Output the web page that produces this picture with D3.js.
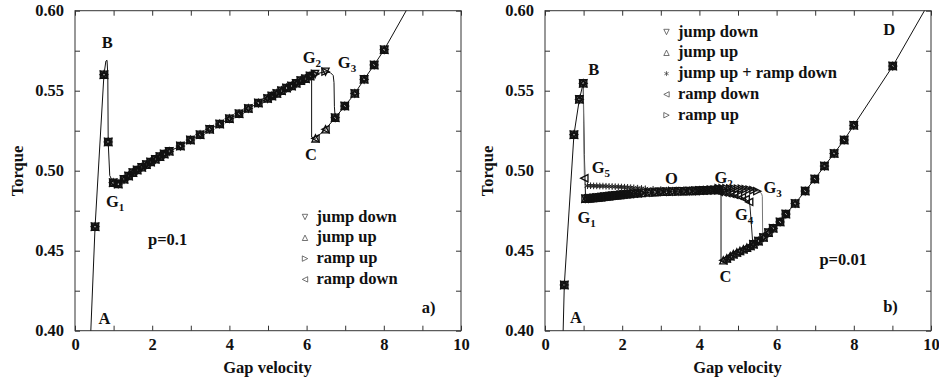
<!DOCTYPE html>
<html>
<head>
<meta charset="utf-8">
<script src="https://cdn.jsdelivr.net/npm/d3@7"></script>
<style>
body { margin: 0; background: #fff; }
text { font-family: "Liberation Serif", "Times New Roman", serif; font-weight: bold; font-size: 16.5px; fill: #111; }
</style>
</head>
<body>
<svg id="chart" width="939" height="381"></svg>
<script>
let svg = d3.select("#chart");

//! DATA
let xTicks = [0, 1, 2, 3, 4, 5, 6, 7, 8, 9, 10];
let yTicks = [0.40, 0.425, 0.45, 0.475, 0.50, 0.525, 0.55, 0.575, 0.60];

// --- panel a) p=0.1 : points where all four runs coincide
let leftAll = [
    [0.52, 0.465], [0.75, 0.560], [0.86, 0.518], [0.99, 0.4925], [1.12, 0.4917], [1.27, 0.4946],
    [1.39, 0.4967], [1.50, 0.4988], [1.61, 0.5004], [1.73, 0.5021], [1.85, 0.5038], [1.96, 0.5054],
    [2.08, 0.5071], [2.20, 0.5088], [2.31, 0.5104], [2.44, 0.5121], [2.73, 0.5154], [2.99, 0.5192],
    [3.24, 0.5225], [3.49, 0.5259], [3.75, 0.5292], [4.00, 0.5325], [4.25, 0.5356], [4.49, 0.5389],
    [4.75, 0.5423], [4.99, 0.5451], [5.10, 0.5467], [5.23, 0.5483], [5.35, 0.5500], [5.48, 0.5517],
    [5.61, 0.5529], [5.73, 0.5546], [5.85, 0.5563], [5.97, 0.5575], [6.09, 0.5592]
];
let leftHigh = [[6.74, 0.5331], [6.99, 0.5404], [7.25, 0.5483], [7.49, 0.5571], [7.75, 0.5661], [8.01, 0.5756]];
let leftUpper = [[6.22, 0.5604], [6.49, 0.5619]];
let leftLower = [[6.23, 0.5202], [6.49, 0.5259]];
let leftRise = [[0.41, 0.40]];
let leftPeak = [[0.80, 0.5685], [0.83, 0.569], [0.85, 0.560], [0.86, 0.518], [0.90, 0.497]];
let leftTurnG3 = [[6.62, 0.5612], [6.69, 0.5595], [6.71, 0.555], [6.72, 0.540]];
let leftTurnC = [[6.09, 0.5592], [6.13, 0.5596], [6.13, 0.521]];
let leftEnd = [[8.58, 0.60]];

// --- panel b) p=0.01
let rightRise = [[0.50, 0.4286], [0.75, 0.5225], [0.89, 0.5446], [0.99, 0.5546]];
let rightD = [
    [5.40, 0.4540], [5.53, 0.4560], [5.66, 0.4583], [5.79, 0.4613], [5.91, 0.4640], [6.09, 0.4680],
    [6.24, 0.4729], [6.48, 0.4795], [6.74, 0.4873], [6.99, 0.4948], [7.24, 0.5029], [7.49, 0.5108],
    [7.75, 0.5192], [8.00, 0.5284], [9.01, 0.5654]
];
let plateauLow = [
    [1.05, 0.4825], [1.12, 0.4826], [1.19, 0.4828], [1.26, 0.4830], [1.33, 0.4831], [1.40, 0.4833],
    [1.47, 0.4835], [1.54, 0.4837], [1.61, 0.4839], [1.68, 0.4841], [1.75, 0.4843], [1.82, 0.4845],
    [1.89, 0.4847], [1.96, 0.4849], [2.04, 0.4851], [2.12, 0.4853], [2.20, 0.4855], [2.30, 0.4857],
    [2.40, 0.4859], [2.50, 0.4861], [2.70, 0.4864], [2.85, 0.4866], [3.00, 0.4868], [3.15, 0.4869],
    [3.30, 0.4870], [3.45, 0.4871], [3.60, 0.4872], [3.75, 0.4873], [3.90, 0.4874], [4.00, 0.4876],
    [4.10, 0.4877], [4.20, 0.4878], [4.30, 0.4879], [4.40, 0.4880], [4.50, 0.4880]
];
let starBranch = [
    [1.10, 0.4906], [1.18, 0.4906], [1.26, 0.4905], [1.34, 0.4905], [1.42, 0.4904], [1.50, 0.4904],
    [1.58, 0.4903], [1.66, 0.4902], [1.74, 0.4901], [1.82, 0.4900], [1.90, 0.4899], [1.98, 0.4898],
    [2.06, 0.4897], [2.14, 0.4896], [2.22, 0.4894], [2.30, 0.4893], [2.40, 0.4891], [2.50, 0.4889],
    [2.60, 0.4887], [2.80, 0.4884], [3.00, 0.4882], [3.20, 0.4881], [3.40, 0.4880], [3.60, 0.4880],
    [3.80, 0.4881], [4.00, 0.4882], [4.20, 0.4884], [4.40, 0.4886]
];
let branchG3 = [
    [4.50, 0.4890], [4.60, 0.4890], [4.70, 0.4890], [4.80, 0.4889], [4.90, 0.4889], [5.00, 0.4888],
    [5.10, 0.4887], [5.20, 0.4885], [5.30, 0.4882], [5.40, 0.4878], [5.50, 0.4872]
];
let branchG4 = [
    [4.50, 0.4868], [4.60, 0.4865], [4.70, 0.4861], [4.80, 0.4856], [4.90, 0.4850], [5.00, 0.4843],
    [5.10, 0.4834], [5.20, 0.4822], [5.29, 0.4805]
];
let branchC = [
    [4.62, 0.4440], [4.71, 0.4452], [4.80, 0.4466], [4.88, 0.4478], [4.97, 0.4489], [5.05, 0.4499],
    [5.14, 0.4509], [5.23, 0.4519], [5.32, 0.4530]
];
let pointG5 = [[1.02, 0.4953]];
let rightStart = [[0.47, 0.40]];
let rightDrop = [[1.02, 0.510], [1.05, 0.4835]];
let rightJumpC = [[4.56, 0.4878], [4.56, 0.4440]];
let rightEnd = [[9.83, 0.60]];
let rightDropG5 = [[0.99, 0.5546], [1.00, 0.530], [1.02, 0.4953], [1.06, 0.4906]];
let rightTurnG3 = [[5.56, 0.4866], [5.61, 0.4858], [5.63, 0.4840], [5.64, 0.4585]];
let rightTurnG4 = [[5.31, 0.4780], [5.38, 0.4556]];

//? runs (series) per panel
let leftRuns = {
    "jump down": leftAll.concat(leftHigh, leftUpper),
    "jump up": leftAll.concat(leftHigh, leftLower),
    "ramp up": leftAll.concat(leftHigh, leftUpper),
    "ramp down": leftAll.concat(leftHigh, leftLower)
};
let rightRuns = {
    "jump down": rightRise.concat(rightD, plateauLow),
    "jump up": rightRise.concat(rightD, branchC, plateauLow),
    "jump up + ramp down": starBranch,
    "ramp down": rightRise.concat(rightD, branchG4, branchC, pointG5),
    "ramp up": rightRise.concat(rightD, plateauLow, branchG3)
};
let leftLines = [
    leftRise.concat(leftAll.slice(0, 2), leftPeak, leftAll.slice(3), leftUpper, leftTurnG3, leftHigh, leftEnd),
    leftTurnC.concat(leftLower, leftHigh.slice(0, 1))
];
let rightLines = [
    rightStart.concat(rightRise, rightDrop, plateauLow, rightJumpC, branchC, rightD, rightEnd),
    rightDropG5.concat(starBranch, branchG3, rightTurnG3),
    [[4.40, 0.4872]].concat(branchG4, rightTurnG4)
];

let leftLegend = ["jump down", "jump up", "ramp up", "ramp down"];
let rightLegend = ["jump down", "jump up", "jump up + ramp down", "ramp down", "ramp up"];

// annotations: [label, subscript, x, torque]
let leftNotes = [
    ["B", "", 0.69, 0.5764], ["G", "1", 0.80, 0.4771], ["A", "", 0.61, 0.4044],
    ["G", "2", 5.90, 0.5671], ["G", "3", 6.81, 0.5642], ["C", "", 5.96, 0.5067],
    ["p=0.1", "", 1.89, 0.4536], ["a)", "", 8.98, 0.4109]
];
let rightNotes = [
    ["B", "", 1.12, 0.5598], ["G", "5", 1.21, 0.4984], ["O", "", 3.11, 0.4917],
    ["G", "2", 4.39, 0.4922], ["G", "3", 5.66, 0.4859], ["D", "", 8.76, 0.5848],
    ["G", "1", 0.84, 0.4671], ["G", "4", 4.92, 0.4692], ["C", "", 4.52, 0.4306],
    ["A", "", 0.65, 0.4046], ["p=0.01", "", 7.11, 0.4411], ["b)", "", 8.76, 0.4119]
];

//? symbol styles: triangles inscribed in a square box, so overlapping runs make a crossed box
let symbolRot = { "jump down": 180, "jump up": 0, "ramp up": 90, "ramp down": -90 };
let s = 3.6;
let triangle = "M0," + (-s) + "L" + s + "," + s + "L" + (-s) + "," + s + "Z";
let star = d3.symbol(d3.symbolAsterisk, 30)();

function marker(sel, name, scale) {
    if (name === "jump up + ramp down") {
        sel.append("path").attr("d", star).attr("stroke", "#222").attr("stroke-width", 1)
            .attr("fill", "none").attr("transform", "scale(" + scale + ")");
    } else {
        sel.append("path").attr("d", triangle).attr("stroke", "#111").attr("stroke-width", 1.35)
            .attr("fill", "none").attr("transform", "rotate(" + symbolRot[name] + ") scale(" + scale + ")");
    }
}

function drawPanel(left, runs, lines, legendNames, notes, legendPos, lineColors) {
    let x = d3.scaleLinear().domain([0, 10]).range([left, left + 386]);
    let y = d3.scaleLinear().domain([0.40, 0.60]).range([330.7, 10.7]);
    let g = svg.append("g");

    //? axes
    let fixAxis = a => {
        a.select(".domain").remove();
        a.attr("font-family", null).attr("font-size", null);
        a.selectAll("line").attr("stroke", "#333");
    };
    g.append("g").attr("transform", "translate(0," + y(0.40) + ")")
        .call(d3.axisBottom(x).tickValues(xTicks).tickSize(-5).tickPadding(8)
            .tickFormat(d => d % 2 === 0 ? d : "")).call(fixAxis);
    g.append("g").attr("transform", "translate(0," + y(0.60) + ")")
        .call(d3.axisTop(x).tickValues(xTicks).tickSize(-5).tickFormat("")).call(fixAxis);
    g.append("g").attr("transform", "translate(" + x(0) + ",0)")
        .call(d3.axisLeft(y).tickValues(yTicks).tickSize(-5).tickPadding(11)
            .tickFormat((d, i) => i % 2 ? "" : d3.format(".2f")(d))).call(fixAxis);
    g.append("g").attr("transform", "translate(" + x(10) + ",0)")
        .call(d3.axisRight(y).tickValues(yTicks).tickSize(-5).tickFormat("")).call(fixAxis);

    g.append("rect")
        .attr("x", x(0)).attr("y", y(0.60))
        .attr("width", x(10) - x(0)).attr("height", y(0.40) - y(0.60))
        .attr("fill", "none").attr("stroke", "#333").attr("stroke-width", 1);

    //? lines
    let line = d3.line().x(d => x(d[0])).y(d => y(d[1]));
    g.append("g").selectAll("path").data(lines).enter().append("path")
        .attr("d", line).attr("fill", "none")
        .attr("stroke", (d, i) => lineColors[i]).attr("stroke-width", 1);

    //? markers
    Object.keys(runs).forEach(name => {
        g.append("g").selectAll("g").data(runs[name]).enter().append("g")
            .attr("transform", d => "translate(" + x(d[0]) + "," + y(d[1]) + ")")
            .each(function () { marker(d3.select(this), name, 1); });
    });

    //? legend
    let leg = g.append("g").selectAll("g").data(legendNames).enter().append("g")
        .attr("transform", (d, i) => "translate(" + legendPos[0] + "," + (legendPos[1] + i * 20.8) + ")");
    leg.each(function (d) { marker(d3.select(this), d, 0.75); });
    leg.select("path").attr("stroke", "#444").attr("stroke-width", 1);
    leg.append("text").attr("x", 11.5).attr("y", 4.5).text(d => d);

    //? annotations
    let t = g.append("g").selectAll("text").data(notes).enter().append("text")
        .attr("x", d => x(d[2])).attr("y", d => y(d[3])).text(d => d[0]);
    t.filter(d => d[1] !== "").append("tspan")
        .attr("dy", 4).attr("font-size", "11px").text(d => d[1]);

    //? axis titles
    g.append("text").attr("text-anchor", "middle")
        .attr("transform", "translate(" + (left - 52) + ",171) rotate(-90)").text("Torque");
    g.append("text").attr("text-anchor", "middle")
        .attr("x", (x(0) + x(10)) / 2 - 0.5).attr("y", 372.7).text("Gap velocity");
}

drawPanel(75, leftRuns, leftLines, leftLegend, leftNotes, [305, 217], ["#111", "#111"]);
drawPanel(545, rightRuns, rightLines, rightLegend, rightNotes, [666.5, 32], ["#111", "#777", "#222"]);
</script>
</body>
</html>
